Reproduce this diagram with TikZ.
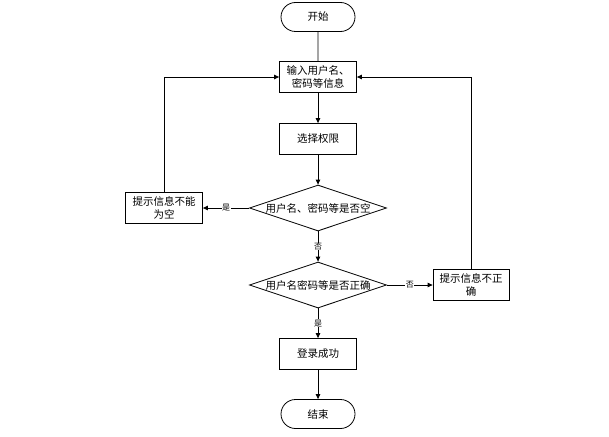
\documentclass[tikz,border=0pt]{standalone}
\usepackage{fontspec}
\setmainfont{Noto Sans CJK SC}
\usetikzlibrary{arrows.meta,shapes.geometric,shapes.misc}
\begin{document}
\begin{tikzpicture}[x=1pt,y=-1pt,
  every node/.style={font=\fontsize{10.5pt}{13pt}\selectfont, inner sep=1pt},
  procbox/.style={draw, line width=0.8pt, minimum width=77pt, minimum height=31pt, align=center, text width=72pt},
  termbox/.style={draw, line width=0.8pt, rounded rectangle, minimum width=76pt, minimum height=29pt},
  decbox/.style={draw, line width=0.8pt, diamond, aspect=3.1, minimum width=137pt, minimum height=46pt, inner sep=0pt},
  conn/.style={line width=0.8pt},
  arr/.style={conn, -{Triangle[length=5pt,width=4.5pt]}},
  lbl/.style={font=\fontsize{8pt}{9pt}\selectfont, fill=white, inner sep=0.5pt}]
\useasboundingbox (0,0) rectangle (609,436);
\node[termbox] (start) at (318,17) {开始};
\node[procbox, text width=70pt] (input) at (318,77) {输入用户名、\\密码等信息};
\node[procbox] (select) at (318,139) {选择权限};
\node[decbox] (d1) at (318,208) {用户名、密码等是否空};
\node[procbox, minimum width=77pt] (empty) at (164,208) {提示信息不能\\为空};
\node[decbox] (d2) at (318,285) {用户名密码等是否正确};
\node[procbox, minimum width=76pt] (wrong) at (471,285) {提示信息不正\\确};
\node[procbox] (ok) at (318,354) {登录成功};
\node[termbox] (end) at (318,414) {结束};
\coordinate (lc) at (164,77);
\coordinate (rc) at (471,77);
\draw[conn] (start) -- (input);
\draw[arr] (input) -- (select);
\draw[arr] (select) -- (d1);
\draw[arr] (d1) -- node[lbl]{是} (empty);
\draw[arr] (d1) -- node[lbl]{否} (d2);
\draw[arr] (d2) -- node[lbl]{否} (wrong);
\draw[arr] (d2) -- node[lbl]{是} (ok);
\draw[arr] (ok) -- (end);
\draw[arr] (empty.north) -- (lc) -- (input.west);
\draw[arr] (wrong.north) -- (rc) -- (input.east);
\end{tikzpicture}
\end{document}
